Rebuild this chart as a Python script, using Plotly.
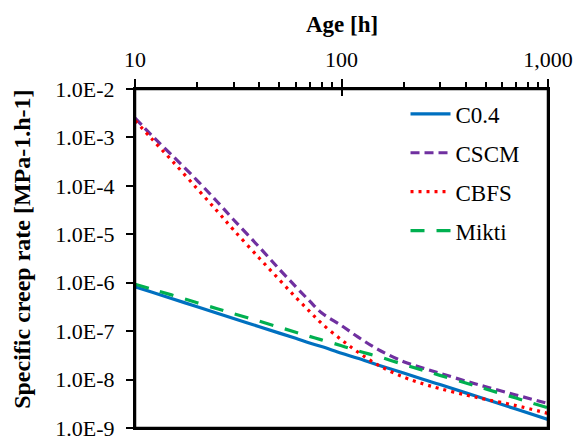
import plotly.graph_objects as go

hours = [10, 12, 15, 20, 25, 30, 40, 50, 60, 70, 80, 100, 120, 150, 200, 250, 300, 400, 500, 700, 1000]

c04 = [8.2e-7, 6.4e-7, 4.7e-7, 3.2e-7, 2.34e-7, 1.83e-7, 1.23e-7, 9.1e-8, 7.1e-8, 5.7e-8, 4.8e-8,
       3.5e-8, 2.75e-8, 2.0e-8, 1.36e-8, 1.0e-8, 7.9e-9, 5.3e-9, 3.9e-9, 2.46e-9, 1.5e-9]
cscm = [2.5e-3, 1.12e-3, 4.4e-4, 1.29e-4, 4.7e-5, 2.0e-5, 5.4e-6, 1.9e-6, 8.3e-7, 4.2e-7, 2.4e-7,
        1.3e-7, 7.6e-8, 4.2e-8, 2.34e-8, 1.7e-8, 1.35e-8, 9.3e-9, 7.1e-9, 4.8e-9, 3.2e-9]
cbfs = [2.24e-3, 9.5e-4, 3.4e-4, 8.7e-5, 3.0e-5, 1.23e-5, 3.2e-6, 1.15e-6, 5.0e-7, 2.57e-7, 1.45e-7,
        6.6e-8, 3.7e-8, 2.0e-8, 1.12e-8, 8.1e-9, 6.5e-9, 4.8e-9, 3.9e-9, 2.9e-9, 2.0e-9]
mikti = [9.3e-7, 7.4e-7, 5.6e-7, 3.85e-7, 2.9e-7, 2.3e-7, 1.6e-7, 1.2e-7, 9.5e-8, 7.8e-8, 6.6e-8,
         5.0e-8, 3.9e-8, 3.0e-8, 2.05e-8, 1.54e-8, 1.22e-8, 8.5e-9, 6.4e-9, 4.15e-9, 2.6e-9]

series_names = ["C0.4", "CSCM", "CBFS", "Mikti"]
x_title = "Age [h]"
y_title = "Specific creep rate [MPa-1.h-1]"
x_tickvals = [10, 100, 1000]
x_ticktext = ["10", "100", "1,000"]
x_minor_vals = [20, 30, 40, 50, 60, 70, 80, 90, 200, 300, 400, 500, 600, 700, 800, 900]
y_tickvals = [1e-2, 1e-3, 1e-4, 1e-5, 1e-6, 1e-7, 1e-8, 1e-9]
y_ticktext = ["1.0E-2", "1.0E-3", "1.0E-4", "1.0E-5", "1.0E-6", "1.0E-7", "1.0E-8", "1.0E-9"]

FONT = "Liberation Serif, Times New Roman, serif"

fig = go.Figure()
styles = [
    dict(color="#0070C0", width=3.2, dash="solid"),
    dict(color="#7030A0", width=3.2, dash="9px,5px"),
    dict(color="#FF0000", width=3.2, dash="3px,5px"),
    dict(color="#00B050", width=3.2, dash="14px,12px"),
]
for i, (name, ys, st) in enumerate(zip(series_names, [c04, cscm, cbfs, mikti], styles)):
    fig.add_trace(go.Scatter(x=hours, y=ys, mode="lines", name=name, line=st,
                             line_shape="spline", legendgroup=f"g{i}"))

# overlay axis only used to draw inward major ticks so they cross the top axis line
fig.add_trace(go.Scatter(x=[10, 1000], y=[1e-9, 1e-9], xaxis="x2", mode="lines",
                         line=dict(width=0), showlegend=False, hoverinfo="skip"))

fig.update_layout(
    width=576, height=439,
    margin=dict(l=135, r=28, t=89, b=11, autoexpand=False),
    paper_bgcolor="white", plot_bgcolor="white",
    font=dict(family=FONT, size=22, color="black"),
    showlegend=True,
    legend=dict(x=0.655, y=0.99, xanchor="left", yanchor="top",
                font=dict(family=FONT, size=23, color="black"),
                bgcolor="rgba(0,0,0,0)", tracegroupgap=6, itemwidth=40),
    xaxis=dict(type="log", range=[0.9995, 3.0005], side="top", automargin=False,
               tickvals=x_tickvals, ticktext=x_ticktext,
               ticks="outside", ticklen=8, tickwidth=2, tickcolor="black",
               ticklabelstandoff=3, ticklabeloverflow="allow",
               minor=dict(tickvals=x_minor_vals, ticks="outside", ticklen=5, tickwidth=1.5,
                          tickcolor="black", showgrid=False),
               showline=True, linewidth=2, linecolor="black", mirror=True,
               showgrid=False, zeroline=False,
               tickfont=dict(family=FONT, size=22)),
    xaxis2=dict(type="log", range=[0.9995, 3.0005], overlaying="x", side="top", automargin=False,
                tickvals=x_tickvals, ticks="inside", ticklen=7,
                tickwidth=2, tickcolor="black", showline=False, showgrid=False,
                zeroline=False, showticklabels=False),
    yaxis=dict(type="log", range=[-9.0008, -1.9995], automargin=False,
               tickvals=y_tickvals, ticktext=y_ticktext,
               ticks="outside", ticklen=7, tickwidth=2, tickcolor="black",
               ticklabelstandoff=7, ticklabeloverflow="allow",
               showline=True, linewidth=2, linecolor="black", mirror=True,
               showgrid=False, zeroline=False,
               tickfont=dict(family=FONT, size=22)),
    annotations=[
        dict(text=f"<b>{x_title}</b>", xref="paper", yref="paper", x=0.5, y=1.19,
             xanchor="center", yanchor="middle", showarrow=False,
             font=dict(family=FONT, size=23, color="black")),
        dict(text=f"<b>{y_title}</b>", xref="paper", yref="paper", x=-0.274, y=0.528,
             xanchor="center", yanchor="middle", textangle=-90, showarrow=False,
             font=dict(family=FONT, size=24, color="black")),
    ],
    shapes=[dict(type="rect", xref="paper", yref="paper", x0=0, x1=1, y0=0, y1=1,
                 line=dict(color="black", width=2.5), fillcolor="rgba(0,0,0,0)", layer="above")],
)

fig.write_html("out.html", config={"displayModeBar": False},
               post_script="document.body.style.margin='0';document.body.style.padding='0';")
